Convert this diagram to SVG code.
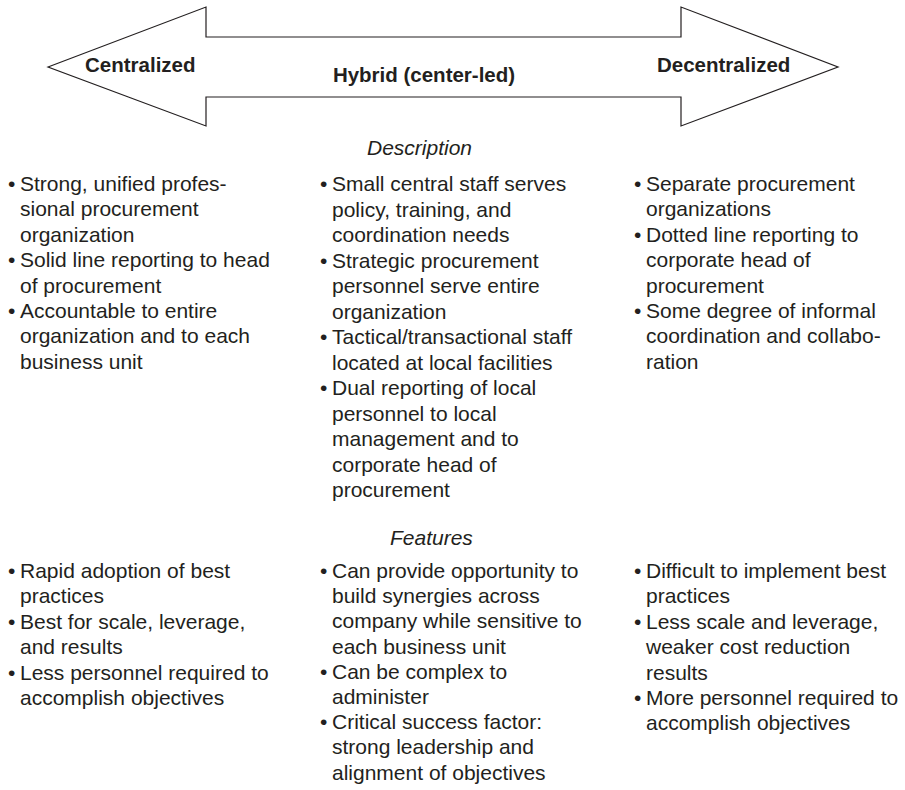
<svg xmlns="http://www.w3.org/2000/svg" width="905" height="790" viewBox="0 0 905 790">
<style>
.arrow{fill:#fff;stroke:#231f20;stroke-width:1.2;stroke-linejoin:miter}
.lbl{font-family:"Liberation Sans",Arial,sans-serif;font-weight:bold;font-size:20.5px;fill:#231f20}
.body{font-family:"Liberation Sans",Arial,sans-serif;font-size:21px;fill:#231f20}
.head{font-family:"Liberation Sans",Arial,sans-serif;font-style:italic;font-size:21px;fill:#231f20}
</style>
<rect width="905" height="790" fill="#fff"/>
<g id="arrow">
<polygon class="arrow" points="48,67 206,7 206,37 681,37 681,7 838,67 681,126 681,97 206,97 206,126"/>
<text class="lbl" x="85" y="72">Centralized</text>
<text class="lbl" x="424" y="82" text-anchor="middle">Hybrid (center-led)</text>
<text class="lbl" x="657" y="72">Decentralized</text>
</g>
<g id="description-heading"><text class="head" x="367" y="155">Description</text></g>
<g id="features-heading"><text class="head" x="390" y="545">Features</text></g>
<g id="centralized-description">
<text class="body" y="191">
<tspan x="8">•</tspan><tspan x="20">Strong, unified profes-</tspan>
<tspan x="20" dy="25.4">sional procurement</tspan>
<tspan x="20" dy="25.4">organization</tspan>
<tspan x="8" dy="25.4">•</tspan><tspan x="20">Solid line reporting to head</tspan>
<tspan x="20" dy="25.4">of procurement</tspan>
<tspan x="8" dy="25.4">•</tspan><tspan x="20">Accountable to entire</tspan>
<tspan x="20" dy="25.4">organization and to each</tspan>
<tspan x="20" dy="25.4">business unit</tspan>
</text>
</g>
<g id="hybrid-description">
<text class="body" y="191">
<tspan x="320">•</tspan><tspan x="332">Small central staff serves</tspan>
<tspan x="332" dy="25.5">policy, training, and</tspan>
<tspan x="332" dy="25.5">coordination needs</tspan>
<tspan x="320" dy="25.5">•</tspan><tspan x="332">Strategic procurement</tspan>
<tspan x="332" dy="25.5">personnel serve entire</tspan>
<tspan x="332" dy="25.5">organization</tspan>
<tspan x="320" dy="25.5">•</tspan><tspan x="332">Tactical/transactional staff</tspan>
<tspan x="332" dy="25.5">located at local facilities</tspan>
<tspan x="320" dy="25.5">•</tspan><tspan x="332">Dual reporting of local</tspan>
<tspan x="332" dy="25.5">personnel to local</tspan>
<tspan x="332" dy="25.5">management and to</tspan>
<tspan x="332" dy="25.5">corporate head of</tspan>
<tspan x="332" dy="25.5">procurement</tspan>
</text>
</g>
<g id="decentralized-description">
<text class="body" y="191">
<tspan x="634">•</tspan><tspan x="646">Separate procurement</tspan>
<tspan x="646" dy="25.4">organizations</tspan>
<tspan x="634" dy="25.4">•</tspan><tspan x="646">Dotted line reporting to</tspan>
<tspan x="646" dy="25.4">corporate head of</tspan>
<tspan x="646" dy="25.4">procurement</tspan>
<tspan x="634" dy="25.4">•</tspan><tspan x="646">Some degree of informal</tspan>
<tspan x="646" dy="25.4">coordination and collabo-</tspan>
<tspan x="646" dy="25.4">ration</tspan>
</text>
</g>
<g id="centralized-features">
<text class="body" y="578">
<tspan x="8">•</tspan><tspan x="20">Rapid adoption of best</tspan>
<tspan x="20" dy="25.4">practices</tspan>
<tspan x="8" dy="25.4">•</tspan><tspan x="20">Best for scale, leverage,</tspan>
<tspan x="20" dy="25.4">and results</tspan>
<tspan x="8" dy="25.4">•</tspan><tspan x="20">Less personnel required to</tspan>
<tspan x="20" dy="25.4">accomplish objectives</tspan>
</text>
</g>
<g id="hybrid-features">
<text class="body" y="578">
<tspan x="320">•</tspan><tspan x="332">Can provide opportunity to</tspan>
<tspan x="332" dy="25.2">build synergies across</tspan>
<tspan x="332" dy="25.2">company while sensitive to</tspan>
<tspan x="332" dy="25.2">each business unit</tspan>
<tspan x="320" dy="25.2">•</tspan><tspan x="332">Can be complex to</tspan>
<tspan x="332" dy="25.2">administer</tspan>
<tspan x="320" dy="25.2">•</tspan><tspan x="332">Critical success factor:</tspan>
<tspan x="332" dy="25.2">strong leadership and</tspan>
<tspan x="332" dy="25.2">alignment of objectives</tspan>
</text>
</g>
<g id="decentralized-features">
<text class="body" y="578">
<tspan x="634">•</tspan><tspan x="646">Difficult to implement best</tspan>
<tspan x="646" dy="25.4">practices</tspan>
<tspan x="634" dy="25.4">•</tspan><tspan x="646">Less scale and leverage,</tspan>
<tspan x="646" dy="25.4">weaker cost reduction</tspan>
<tspan x="646" dy="25.4">results</tspan>
<tspan x="634" dy="25.4">•</tspan><tspan x="646">More personnel required to</tspan>
<tspan x="646" dy="25.4">accomplish objectives</tspan>
</text>
</g>
<g id="connectors"/>
</svg>
